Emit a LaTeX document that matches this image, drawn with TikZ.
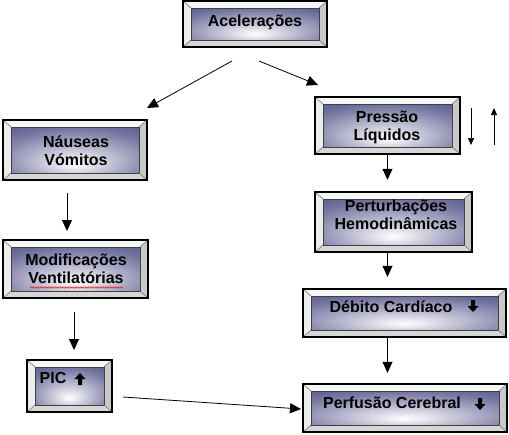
\documentclass[tikz,border=0pt]{standalone}
\usepackage{fontspec}
\setmainfont{Liberation Sans}
\usetikzlibrary{arrows.meta,decorations.pathmorphing}
\definecolor{facec}{RGB}{84,84,138}
\pgfdeclareradialshading{bevface}{\pgfpoint{0bp}{-16bp}}{color(0bp)=(white); color(6bp)=(white!85!facec); color(18bp)=(facec!45!white); color(32bp)=(facec!80!white); color(45bp)=(facec); color(75bp)=(facec!85!black)}
\tikzset{
  bevtop/.style={fill=gray!6},
  bevleft/.style={fill=gray!14},
  bevright/.style={fill=gray!42},
  bevbot/.style={fill=gray!32},
  bevdiag/.style={draw=black!60, line width=0.5pt},
  boxnode/.style={inner sep=0pt, draw=none, rectangle},
  lbl/.style={anchor=base, inner sep=0pt, font=\fontsize{16}{18}\selectfont\bfseries},
  conn/.style={draw=black, line width=0.8pt, -{Triangle[length=11pt,width=10pt]}},
  sconn/.style={draw=black, line width=0.7pt, -{Triangle[length=7pt,width=6pt]}},
}
\newcommand\bevbox[5]{%
  \fill[bevtop] (#2,#3) -- (#4,#3) -- (#4-8,#3+7) -- (#2+8,#3+7) -- cycle;
  \fill[bevleft] (#2,#3) -- (#2+8,#3+7) -- (#2+8,#5-7) -- (#2,#5) -- cycle;
  \fill[bevright] (#4,#3) -- (#4,#5) -- (#4-8,#5-7) -- (#4-8,#3+7) -- cycle;
  \fill[bevbot] (#2,#5) -- (#2+8,#5-7) -- (#4-8,#5-7) -- (#4,#5) -- cycle;
  \shade[shading=bevface] (#2+8,#3+7) rectangle (#4-8,#5-7);
  \draw[black!75, line width=0.5pt] (#2+8,#3+7) rectangle (#4-8,#5-7);
  \draw[bevdiag] (#2,#3) -- (#2+8,#3+7) (#4,#3) -- (#4-8,#3+7) (#2,#5) -- (#2+8,#5-7) (#4,#5) -- (#4-8,#5-7);
  \draw[black, line width=1.3pt] (#2,#3) rectangle (#4,#5);
  \node[boxnode, minimum width={(#4-#2)*1pt}, minimum height={(#5-#3)*1pt}] (#1) at ({(#2+#4)/2},{(#3+#5)/2}) {};
}
\newcommand\barrdown[3]{%
  \fill[black] (#1-2,#2) -- (#1+2,#2) -- (#1+2,#3-6) -- (#1+5.5,#3-6) -- (#1,#3) -- (#1-5.5,#3-6) -- (#1-2,#3-6) -- cycle;
}
\newcommand\barrup[3]{%
  \fill[black] (#1-2,#3) -- (#1+2,#3) -- (#1+2,#2+6) -- (#1+5.5,#2+6) -- (#1,#2) -- (#1-5.5,#2+6) -- (#1-2,#2+6) -- cycle;
}
\begin{document}
\begin{tikzpicture}[x=1pt,y=-1pt]
\useasboundingbox (0,0) rectangle (509,434);
% boxes
\bevbox{acel}{183}{1}{327}{47}
\bevbox{naus}{3}{120}{147}{180}
\bevbox{press}{315}{97}{460}{154}
\bevbox{pert}{315}{192}{472}{252}
\bevbox{modif}{3}{240}{148}{298}
\bevbox{deb}{303}{289}{506}{337}
\bevbox{pic}{27}{360}{112}{412}
\bevbox{perf}{303}{384}{507}{432}
% texts
\node[lbl] (acelT) at (255,26) {Acelerações};
\node[lbl] (nausT1) at (76,147) {Náuseas};
\node[lbl] (nausT2) at (76,165) {Vómitos};
\node[lbl] (pressT1) at (387,122) {Pressão};
\node[lbl] (pressT2) at (387,140) {Líquidos};
\node[lbl] (pertT1) at (396,211) {Perturbações};
\node[lbl] (pertT2) at (396,229) {Hemodinâmicas};
\node[lbl] (modifT1) at (76,265) {Modificações};
\node[lbl] (modifT2) at (76,283) {Ventilatórias};
\node[lbl] (debT) at (391,312) {Débito Cardíaco};
\node[lbl] (picT) at (53,383) {PIC};
\node[lbl] (perfT) at (392,408) {Perfusão Cerebral};
% red spell-check underline
\draw[red, line width=0.5pt, decorate, decoration={snake, amplitude=0.7pt, segment length=2.5pt}] (30,287.5) -- (123,287.5);
% block arrows
\barrdown{473}{300}{312}
\barrup{80}{373}{385}
\barrdown{480}{398}{410}
% connector end points
\coordinate (c1s) at (232,61);
\coordinate (c1e) at (147,108);
\coordinate (c2s) at (259,61);
\coordinate (c2e) at (318,85);
\coordinate (c3s) at (67,193);
\coordinate (c3e) at (67,231);
\coordinate (c4s) at (74,312);
\coordinate (c4e) at (74,350);
\coordinate (c5s) at (123,397);
\coordinate (c5e) at (301,409);
\coordinate (pd1) at (471,108);
\coordinate (pd2) at (471,145);
\coordinate (pu1) at (494,145);
\coordinate (pu2) at (494,108);
% connectors
\draw[conn] (c1s) -- (c1e);
\draw[conn] (c2s) -- (c2e);
\draw[conn] (c3s) -- (c3e);
\draw[conn] (c4s) -- (c4e);
\draw[conn] (c5s) -- (c5e);
\draw[conn, shorten >=12pt] (press.south) -- (press.south |- pert.north);
\draw[conn, shorten >=12pt] (pert.south -| press.south) -- (press.south |- deb.north);
\draw[conn, shorten >=11pt] (deb.south -| press.south) -- (press.south |- perf.north);
\draw[sconn] (pd1) -- (pd2);
\draw[sconn] (pu1) -- (pu2);
\end{tikzpicture}
\end{document}
